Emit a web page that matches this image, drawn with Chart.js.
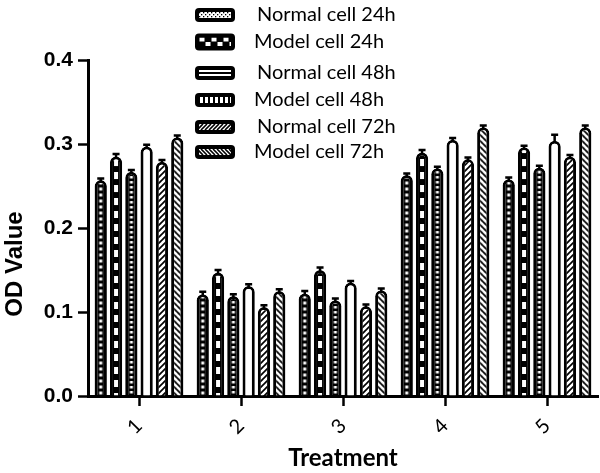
<!DOCTYPE html>
<html><head><meta charset="utf-8">
<script src="https://cdn.jsdelivr.net/npm/chart.js@4/dist/chart.umd.min.js"></script>
<style>html,body{margin:0;padding:0;background:#fff}#wrap{width:600px;height:473px;position:relative}</style>
</head><body><div id="wrap"><canvas id="c" width="600" height="473"></canvas></div>
<script>
const categories = ['1','2','3','4','5'];
const seriesNames = ['Normal cell 24h','Model cell 24h','Normal cell 48h','Model cell 48h','Normal cell 72h','Model cell 72h'];
const normal24 = [0.257, 0.121, 0.122, 0.263, 0.258];
const model24  = [0.285, 0.147, 0.150, 0.290, 0.296];
const normal48 = [0.267, 0.119, 0.114, 0.271, 0.272];
const model48  = [0.297, 0.131, 0.135, 0.305, 0.304];
const normal72 = [0.279, 0.106, 0.107, 0.282, 0.285];
const model72  = [0.308, 0.125, 0.126, 0.320, 0.320];
const errors = [
  [0.002,0.003,0.003,0.002,0.002],
  [0.003,0.003,0.003,0.003,0.002],
  [0.002,0.002,0.002,0.002,0.002],
  [0.002,0.002,0.002,0.002,0.007],
  [0.002,0.002,0.002,0.002,0.002],
  [0.002,0.002,0.002,0.002,0.002]
];
const yTicks = [0.0, 0.1, 0.2, 0.3, 0.4];
const allData=[normal24,model24,normal48,model48,normal72,model72];

function tileCanvas(i){
  const specs=[[12,6],[12,13],[12,5],[12,6],[12,6],[12,6]];
  const [w,h]=specs[i];
  const c=document.createElement('canvas');c.width=w;c.height=h;const x=c.getContext('2d');
  if(i===0){x.fillStyle='#000';x.fillRect(0,0,w,h);x.fillStyle='#fff';x.fillRect(4.5,1.5,3,3);}
  else if(i===1){x.fillStyle='#000';x.fillRect(0,0,w,h);x.fillStyle='#fff';x.fillRect(4,3,4,7);}
  else if(i===2){x.fillStyle='#000';x.fillRect(0,0,w,h);x.fillStyle='#fff';x.fillRect(4.5,1,3,2.5);}
  else if(i===3){x.fillStyle='#fff';x.fillRect(0,0,w,h);}
  else if(i===4){x.fillStyle='#fff';x.fillRect(0,0,w,h);x.strokeStyle='#000';x.lineWidth=1.7;x.beginPath();
    for(let k=-2;k<4;k++){x.moveTo(k*6-1,h+1);x.lineTo(k*6+h+1,-1);}x.stroke();}
  else {x.fillStyle='#fff';x.fillRect(0,0,w,h);x.strokeStyle='#000';x.lineWidth=1.7;x.beginPath();
    for(let k=-2;k<4;k++){x.moveTo(k*6-1,-1);x.lineTo(k*6+h+1,h+1);}x.stroke();}
  return c;
}
const tiles=[0,1,2,3,4,5].map(tileCanvas);
const mainCtx=document.getElementById('c').getContext('2d');
const cache={};
function pat(i,ox){
  const key=i+'_'+Math.round(ox*2);
  if(cache[key]) return cache[key];
  const p=mainCtx.createPattern(tiles[i],'repeat');
  if(p.setTransform) p.setTransform(new DOMMatrix().translate(ox,0));
  cache[key]=p;return p;
}

function legendBox(ctx,i,y){
  const x0=195,w=40,h=(i===1?17:14);
  ctx.save();
  ctx.beginPath();
  if(ctx.roundRect) ctx.roundRect(x0,y-h/2,w,h,4); else ctx.rect(x0,y-h/2,w,h);
  ctx.fillStyle='#000';ctx.fill();
  const ix=x0+4,iy=y-h/2+4,iw=w-8,ih=h-8;
  ctx.beginPath();ctx.rect(ix,iy,iw,ih);ctx.clip();
  if(i===0){
    ctx.fillStyle='#fff';ctx.fillRect(ix,iy,iw,ih);ctx.fillStyle='#000';
    for(let a=0;a<iw;a+=2)for(let b=0;b<ih;b+=2){if(((a+b)/2)%2===0)ctx.fillRect(ix+a,iy+b,1.3,1.3);}
  }else if(i===1){
    ctx.fillStyle='#fff';
    for(let a=0;a<iw;a+=6)for(let b=0;b<ih;b+=4.5){if((Math.round(a/6)+Math.round(b/4.5))%2===0)ctx.fillRect(ix+a+0.5,iy+b,5,4);}
  }else if(i===2){
    ctx.fillStyle='#fff';ctx.fillRect(ix,iy,iw,ih);ctx.fillStyle='#000';ctx.fillRect(ix,y-1,iw,2);
  }else if(i===3){
    ctx.fillStyle='#fff';for(let a=0;a<iw;a+=5)ctx.fillRect(ix+a+1,iy,3,ih);
  }else{
    ctx.fillStyle='#fff';ctx.fillRect(ix,iy,iw,ih);ctx.strokeStyle='#000';ctx.lineWidth=1.6;ctx.beginPath();
    for(let a=-10;a<iw+10;a+=4){
      if(i===4){ctx.moveTo(ix+a,iy+ih);ctx.lineTo(ix+a+ih,iy);}else{ctx.moveTo(ix+a,iy);ctx.lineTo(ix+a+ih,iy+ih);}
    }
    ctx.stroke();
  }
  ctx.restore();
}

const legendPlugin={id:'customLegend',afterDraw(chart){
  const ctx=chart.ctx;ctx.save();
  const ys=[15,42,73,100,127,152];
  chart.data.datasets.forEach((ds,i)=>{
    const y=ys[i];
    legendBox(ctx,i,y);
    ctx.fillStyle='#000';ctx.font='20px Lato';ctx.textBaseline='middle';ctx.textAlign='left';
    ctx.fillText(ds.label, i%2===0?257:254, y);
  });
  ctx.save();ctx.translate(15,264);ctx.rotate(-Math.PI/2);
  ctx.font='bold 24px "Liberation Sans"';ctx.textAlign='center';ctx.textBaseline='middle';ctx.fillStyle='#000';
  ctx.fillText('OD Value',0,0);ctx.restore();
  ctx.restore();
}};
const errPlugin={id:'errBars',afterDatasetsDraw(chart){
  const ctx=chart.ctx;const ys=chart.scales.y;ctx.save();ctx.strokeStyle='#000';ctx.lineWidth=2.5;
  chart.data.datasets.forEach((ds,i)=>{
    const meta=chart.getDatasetMeta(i);
    meta.data.forEach((bar,j)=>{
      const v=ds.data[j],e=errors[i][j];
      const top=ys.getPixelForValue(v+e);
      ctx.beginPath();ctx.moveTo(bar.x,bar.y+2);ctx.lineTo(bar.x,top);
      ctx.moveTo(bar.x-3.5,top);ctx.lineTo(bar.x+3.5,top);ctx.stroke();
    });
  });
  ctx.restore();
}};

const chart=new Chart(document.getElementById('c'),{
  type:'bar',
  data:{labels:categories,datasets:allData.map((d,i)=>({label:seriesNames[i],data:d,
    backgroundColor:(c)=>{const m=c.chart.getDatasetMeta(c.datasetIndex);const el=m&&m.data[c.dataIndex];const x=(el&&isFinite(el.x))?el.x:0;return pat(c.datasetIndex,x-6);},
    borderColor:'#000',borderWidth:3,borderSkipped:'bottom',borderRadius:{topLeft:6,topRight:6,bottomLeft:0,bottomRight:0},categoryPercentage:0.9,barPercentage:0.8}))},
  options:{
    responsive:false,animation:false,
    layout:{padding:{top:60,right:2,left:0,bottom:0}},
    plugins:{legend:{display:false},tooltip:{enabled:false}},
    scales:{
      x:{
        grid:{display:true,drawOnChartArea:false,drawTicks:true,tickLength:10,tickColor:'#000',tickWidth:2.5,offset:false},
        border:{color:'#000',width:3},
        ticks:{color:'#000',font:{family:'Lato',size:20},minRotation:45,maxRotation:45,padding:8},
        title:{display:true,text:'Treatment',color:'#000',font:{family:'Lato',size:24,weight:'bold'},padding:{top:0,bottom:0}},
        afterFit(s){s.height=77;}
      },
      y:{
        min:0,max:0.4,
        afterBuildTicks(s){s.ticks=yTicks.map(v=>({value:v}));},
        grid:{display:true,drawOnChartArea:false,drawTicks:true,tickLength:10,tickColor:'#000',tickWidth:2.5},
        border:{color:'#000',width:3},
        ticks:{color:'#000',font:{family:'Liberation Sans',size:21,weight:'bold'},padding:5,callback:v=>Number(v).toFixed(1)},
        afterFit(s){s.width=88;}
      }
    }
  },
  plugins:[legendPlugin,errPlugin]
});
chart.update('none');
</script></body></html>
